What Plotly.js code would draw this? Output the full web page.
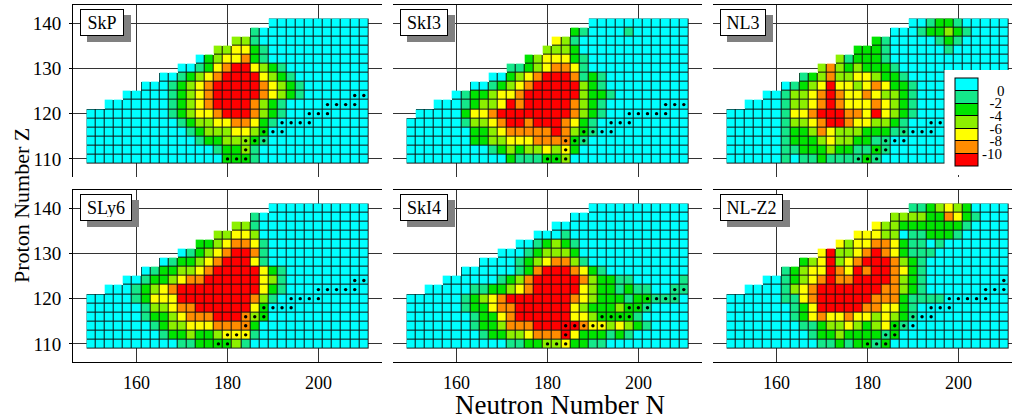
<!DOCTYPE html>
<html><head><meta charset="utf-8">
<script src="https://cdn.plot.ly/plotly-3.0.1.min.js"></script>
<style>html,body{margin:0;padding:0;background:#fff;}#chart{width:1012px;height:420px;}</style>
</head><body><div id="chart"></div>
<script>
// ---- grid coordinates ----
const neutronN = [150,152,154,156,158,160,162,164,166,168,170,172,174,176,178,180,182,184,186,188,190,192,194,196,198,200,202,204,206,208,210];
const protonZ = [140,138,136,134,132,130,128,126,124,122,120,118,116,114,112,110]; // rows listed top to bottom
// shell-correction bins (MeV): digit k in a row string = bin k
const binEnergy = [1,-1,-3,-5,-7,-9,-11];
const levelTicks = [0,-2,-4,-6,-8,-10];
const levelLabels = ['\u2007\u20070','\u2007-2','\u2007-4','\u2007-6','\u2007-8','-10'];
const levelColors = ['#00FFFF','#14E88A','#00E400','#8CF000','#FFFF00','#FF8C00','#FF0000'];

// each row string runs from its first computed nucleus up to N=210
const SkP = ["00000000000","1000000000000","331000000000000","33442100000000000","0234452100000000000",
"001245664321000000000","00123456666432100000000","0001234566666543210000000","000001234566666543210000000",
"00000001234566665321000000000","0000000001234456665321000000000","0000000000123344554210000000000",
"0000000000012333443200000000000","0000000000001223332100000000000","0000000000000012231000000000000",
"0000000000000002221000000000000"];
const SkI3 = ["00000000000","2100001000000","431000000000000","3332000000000000","234442100000000000",
"11234554100000000000","0023456665121000000000","001234566666321000000000","01223445666666322100000000",
"0001233465666665321000000000","000002445666666665321000000000","0000001334566566654210000000000",
"0000000223455555653210000000000","0000000223344455552100000000000","0000000001232334342000000000000",
"0000000000021112230000000000000"];
const NL3 = ["00122100000","0001223210000","210000012100000","22210000001000000","3122210000000000000",
"353232221000000000000","12353344322100000000000","0123464434542210000000000","001334565445433210000000000",
"00001334565444543210000000000","0000001445666554643210000000000","0000001334566544332100000000000",
"0000001223543332221100000000000","0000001222343322110000000000000","0000001122232211210000000000000",
"0000001011211112100000000000000"];
const SLy6 = ["00000000000","1000000000000","331000000000000","33443000000000000","2234554100000000000",
"012345665100000000000","01223456664100000000000","0122334566666421000000000","001223455666666431000000000",
"00012345666666666421000000000","0000012444666666665310000000000","0000001334556666664200000000000",
"0000001223455566653200000000000","0000000123344455552000000000000","0000000012232234441000000000000",
"0000000000112222310000000000000"];
const SkI4 = ["00000000000","0000000000000","000000000000000","00010000000000000","0012321000000000000",
"000123332000000000000","00001234553100000000000","0000001256665421000000000","000000123566666532211000001",
"00000112234566666432212110011","0000001234566666665432221221110","0000001224556666664322232210000",
"0000000122456666664432222100000","0000000122355566666544343210000","0000000012233455564222121000000",
"0000000000011223342211000000000"];
const NLZ2 = ["11234320000","3333225421000","433222222210000","44433011222100000","4344554211010000000",
"463345654211100000000","23463456665321000000000","1234465465665421000000000","001234565566665321000000000",
"00001345666666655321000000000","0000001145666666555211110000000","0000000124666665544210000000000",
"0000000124544544343210000000000","0000000011233432342100000000000","0000000001223222212000000000000",
"0000000000112122120000000000000"];

// nuclei marked with dots: [Z, [N...]]
const dotsSkP = [[110,[180,182,184]],[112,[184]],[114,[184,186,188]],[116,[188,190,192]],[118,[192,194,196,198]],[120,[198,200,202]],[122,[202,204,206,208]],[124,[208,210]]];
const dotsSkI3 = [[110,[180,182,184]],[112,[184]],[114,[184,186,188]],[116,[188,190,192,194]],[118,[194,196,198]],[120,[198,200,202,204,206]],[122,[206,208,210]]];
const dotsNL3 = [[110,[178,180,182]],[112,[182,184]],[114,[184,186,188]],[116,[188,190,192,194]],[118,[194,196]]];
const dotsSLy6 = [[110,[178,180]],[112,[180,182,184]],[114,[184]],[116,[184,186,188]],[118,[188,190,192,194]],[120,[194,196,198,200]],[122,[200,202,204,206,208]],[124,[208,210]]];
const dotsSkI4 = [[110,[180,182,184]],[112,[184]],[114,[184,186,188,190,192]],[116,[192,194,196,198]],[118,[198,200,202]],[120,[202,204,206,208]],[122,[208,210]]];
const dotsNLZ2 = [[110,[180,182,184]],[112,[184,186]],[114,[186,188,190]],[116,[190,192,194]],[118,[194,196,198]],[120,[198,200,202,204,206]],[122,[206,208,210]],[124,[210]]];

const panelNames = ['SkP','SkI3','NL3','SLy6','SkI4','NL-Z2'];
const panelRows = [SkP,SkI3,NL3,SLy6,SkI4,NLZ2];
const panelDots = [dotsSkP,dotsSkI3,dotsNL3,dotsSLy6,dotsSkI4,dotsNLZ2];
const labelWidths = [36,40,38,44,40,55];

const FONT = 'Liberation Serif, DejaVu Serif, Times New Roman, serif';
const NC = neutronN.length;

function gridZ(rows){
  const out = rows.map(s => { const pad = NC - s.length; return neutronN.map((n,i)=> i<pad ? null : binEnergy[+s[i-pad]]); });
  return out.slice().reverse();
}
const yAsc = protonZ.slice().reverse();
const zmin = -12, zmax = 2;
function frac(v){ return (v - zmin)/(zmax - zmin); }
const cs = [];
const bounds = [zmin].concat(levelTicks.slice().reverse()).concat([zmax]);
const colsLowHigh = levelColors.slice().reverse();
for(let k=0;k<colsLowHigh.length;k++){ cs.push([frac(bounds[k]), colsLowHigh[k]]); cs.push([frac(bounds[k+1]), colsLowHigh[k]]); }

// layout geometry (px)
const W=1012,H=420, L=73, R=0, T=5, B=58;
const pw = W-L-R, ph = H-T-B;
const xDom = [[0,(382-73)/pw],[(393-73)/pw,(702-73)/pw],[(713-73)/pw,1]];
const yDom = [[(362-177)/ph,1],[0,(362-190)/ph]];
const pxPerN = 309/68;
const xRanges = [[146,214],[146,214],[146,146+299/pxPerN]];

const traces = [];
const layout = {width:W,height:H,margin:{l:L,r:R,t:T,b:B,autoexpand:false},paper_bgcolor:'#fff',plot_bgcolor:'rgba(0,0,0,0)',
  showlegend:false,font:{family:FONT,color:'#000',size:18},annotations:[],shapes:[]};

for(let p=0;p<6;p++){
  const row = Math.floor(p/3), col = p%3;
  const sfx = p===0 ? '' : String(p+1);
  const xa = 'x'+sfx, ya = 'y'+sfx;
  const z = gridZ(panelRows[p]);
  const under = z.map(r => r.map(v => v===null ? null : 1));
  traces.push({type:'heatmap',x:neutronN,y:yAsc,z:under,xaxis:xa,yaxis:ya,colorscale:[[0,'#111'],[1,'#111']],showscale:false,hoverinfo:'skip'});
  const hm = {type:'heatmap',x:neutronN,y:yAsc,z:z,xaxis:xa,yaxis:ya,zmin:zmin,zmax:zmax,colorscale:cs,xgap:1,ygap:1,showscale:false,hoverinfo:'skip'};
  if(p===0){
    hm.showscale = true;
    hm.colorbar = {x:(945-L)/pw, xanchor:'left', y:(362-70)/ph, yanchor:'top', lenmode:'pixels', len:104,
      thicknessmode:'pixels', thickness:23, xpad:10, ypad:8, bgcolor:'#fff', outlinewidth:1, outlinecolor:'#000', borderwidth:0,
      tickmode:'array', tickvals:levelTicks, ticktext:levelLabels, ticks:'inside', ticklen:23, tickwidth:1, tickcolor:'#000',
      tickfont:{family:FONT,size:15,color:'#000'}};
  }
  traces.push(hm);
  const dx=[], dy=[];
  panelDots[p].forEach(([zz,ns]) => ns.forEach(n => { dx.push(n); dy.push(zz); }));
  traces.push({type:'scatter',mode:'markers',x:dx,y:dy,xaxis:xa,yaxis:ya,marker:{symbol:'circle',size:3.4,color:'#000'},hoverinfo:'skip'});

  layout['xaxis'+sfx] = {domain:xDom[col], anchor:ya, range:xRanges[col], tickvals:[160,180,200], showgrid:true, gridcolor:'#333', gridwidth:1,
    zeroline:false, showline:true, side: row===0 ? 'top' : 'bottom', mirror: row===1, linecolor:'#000', linewidth:1, ticks:'',
    ticklabelstandoff:4, showticklabels: row===1, tickfont:{family:FONT,size:18,color:'#000'}, fixedrange:true};
  layout['yaxis'+sfx] = {domain:yDom[row], anchor:xa, range:[106,144], tickvals:[110,120,130,140], showgrid:true, gridcolor:'#333', gridwidth:1,
    zeroline:false, showline: col===0, linecolor:'#000', linewidth:1, ticks: col===0?'outside':'', ticklen:3, tickcolor:'#000',
    ticklabelstandoff:4, showticklabels: col===0, tickfont:{family:FONT,size:19,color:'#000'}, fixedrange:true};

  const w = labelWidths[p];
  // drop shadow of the label box
  layout.shapes.push({type:'rect', xref:xa+' domain', yref:ya+' domain', xsizemode:'pixel', ysizemode:'pixel', xanchor:0, yanchor:1,
    x0:14, x1:14+w+8, y0:-10, y1:-37, fillcolor:'#808080', line:{width:0}, layer:'above'});
  layout.annotations.push({xref:xa+' domain', yref:ya+' domain', x:7/309, y:1-4/172, xanchor:'left', yanchor:'top', text:panelNames[p], showarrow:false,
    borderwidth:1, borderpad:3, width:w, height:19, align:'center', bgcolor:'#fff', bordercolor:'#000', font:{family:FONT,size:18,color:'#000'}});
}
layout.annotations.push({xref:'paper',yref:'paper',x:(21-L)/pw,y:(362-206)/ph,xanchor:'center',yanchor:'middle',textangle:-90,
  text:'Proton Number Z',showarrow:false,font:{family:FONT,size:22,color:'#000'}});
layout.annotations.push({xref:'paper',yref:'paper',x:(560-L)/pw,y:(362-405)/ph,xanchor:'center',yanchor:'middle',
  text:'Neutron Number N',showarrow:false,borderpad:0,font:{family:FONT,size:27,color:'#000'}});

Plotly.newPlot('chart', traces, layout, {staticPlot:true, displayModeBar:false});
</script></body></html>
